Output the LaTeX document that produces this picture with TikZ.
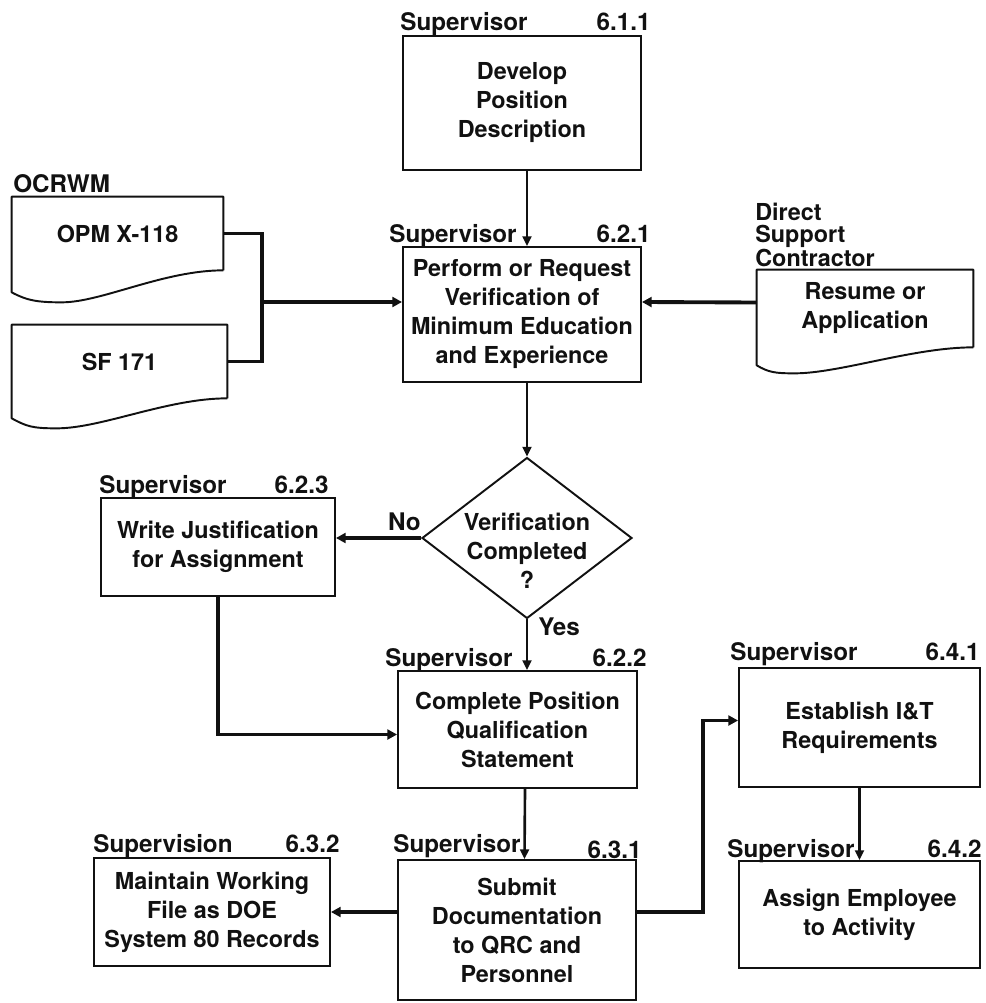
\documentclass[tikz,border=0pt]{standalone}
\usepackage{fontspec}
\setmainfont{TeX Gyre Heros}
\usetikzlibrary{arrows.meta,shapes.geometric,calc}
\definecolor{ink}{HTML}{111111}
\newcommand\chartfont{\fontsize{13.3}{16.5}\selectfont\bfseries}
\newcommand\rolefont{\fontsize{13.8}{16.5}\selectfont\bfseries}
\tikzset{
  proc/.style={draw=ink, line width=1.1pt, align=center, inner sep=2pt, font=\chartfont, text=ink},
  decision/.style={diamond, draw=ink, line width=1.1pt, minimum width=4.2cm, minimum height=3.22cm, inner sep=0pt},
  doc/.style={align=center, inner sep=0pt, font=\chartfont, text=ink},
  docline/.style={draw=ink, line width=1.1pt, line join=round},
  flowtxt/.style={align=center, inner sep=0pt, font=\chartfont, text=ink},
  role/.style={anchor=base west, inner sep=0pt, font=\rolefont, text=ink},
  num/.style={anchor=base east, inner sep=0pt, font=\rolefont, text=ink},
  flow/.style={draw=ink, line width=1.5pt, -{Triangle[length=5.5pt,width=5pt]}},
  flowthick/.style={draw=ink, line width=2.2pt, -{Triangle[length=5.5pt,width=5.6pt]}},
  link/.style={draw=ink, line width=2.2pt},
}

\begin{document}
\begin{tikzpicture}[x=0.02cm,y=-0.02cm]
  \useasboundingbox (0,0) rectangle (985,1003);
  % process boxes
  \node[proc, minimum width=4.76cm, minimum height=2.68cm] (p611) at (522,103) {Develop\\Position\\Description};
  \node[proc, minimum width=4.76cm, minimum height=2.70cm] (p621) at (522,314.5) {Perform or Request\\Verification of\\Minimum Education\\and Experience};
  \node[proc, minimum width=4.68cm, minimum height=1.96cm] (p623) at (218,547) {Write Justification\\for Assignment};
  \node[proc, minimum width=4.78cm, minimum height=2.34cm] (p622) at (517.5,729.5) {Complete Position\\Qualification\\Statement};
  \node[proc, minimum width=4.76cm, minimum height=2.80cm] (p631) at (517,930) {Submit\\Documentation\\to QRC and\\Personnel};
  \node[proc, minimum width=4.72cm, minimum height=2.16cm] (p632) at (212,912) {Maintain Working\\File as DOE\\System 80 Records};
  \node[proc, minimum width=4.82cm, minimum height=2.38cm] (p641) at (859.5,727.5) {Establish I\&T\\Requirements};
  \node[proc, minimum width=4.82cm, minimum height=2.14cm] (p642) at (859.5,914.5) {Assign Employee\\to Activity};
  \node[decision] (dec) at (527,538) {};
  \node[flowtxt] (dectxt) at (527,551) {Verification\\Completed\\?};

  % who and step number over each box
  \node[role] (r611) at (400,31) {Supervisor};
  \node[num] (n611) at (651,31) {6.1.1};
  \node[role] (r621) at (389,243) {Supervisor};
  \node[num] (n621) at (651,243) {6.2.1};
  \node[role] (r623) at (99,493) {Supervisor};
  \node[num] (n623) at (329,493) {6.2.3};
  \node[role] (r622) at (385,666) {Supervisor};
  \node[num] (n622) at (647,666) {6.2.2};
  \node[role] (r631) at (393,852) {Supervisor};
  \node[num] (n631) at (642,858) {6.3.1};
  \node[role] (r632) at (93,852) {Supervision};
  \node[num] (n632) at (340,852) {6.3.2};
  \node[role] (r641) at (730,660) {Supervisor};
  \node[num] (n641) at (980,660) {6.4.1};
  \node[role] (r642) at (727,857) {Supervisor};
  \node[num] (n642) at (982,857) {6.4.2};

  % input documents
  \node[role] (ocrwm) at (13,193) {OCRWM};
  \node[doc, minimum width=4.22cm, minimum height=1.46cm] (opm) at (117.5,233.5) {OPM X-118};
  \node[doc, minimum width=4.30cm, minimum height=1.46cm] (sf) at (119.5,361.5) {SF 171};
  \node[flowtxt, align=left, anchor=north west, font=\fontsize{13.3}{12.3}\selectfont\bfseries] (dsc) at (755,203) {Direct\\Support\\Contractor};
  \node[doc, minimum width=4.32cm, minimum height=1.54cm] (resume) at (865,308.5) {Resume or\\Application};
  \draw[docline] (opm.south east) -- (opm.north east) -- (opm.north west) -- ($(opm.south west)+(0,22)$)
    .. controls +(15,8) and +(-25,0) .. ($(opm.south west)+(50,32)$)
    .. controls +(40,0) and +(-60,0) .. (opm.south east);
  \draw[docline] (sf.south east) -- (sf.north east) -- (sf.north west) -- ($(sf.south west)+(0,20)$)
    .. controls +(15,8) and +(-25,0) .. ($(sf.south west)+(45,30)$)
    .. controls +(45,0) and +(-60,0) .. (sf.south east);
  \draw[docline] (resume.south east) -- (resume.north east) -- (resume.north west) -- ($(resume.south west)+(0,18)$)
    .. controls +(12,7) and +(-20,0) .. ($(resume.south west)+(38,26)$)
    .. controls +(45,0) and +(-60,0) .. (resume.south east);

  % connectors
  \coordinate (brk) at (262,302);
  \draw[link] (opm.east) -| (brk) |- (sf.east);
  \draw[flowthick] (brk) -- (p621.west |- brk);
  \draw[flowthick] ($(resume.west)+(0,-6)$) -- (p621.east |- brk);
  \draw[flow] (dec.north |- p611.south) -- (dec.north |- p621.north);
  \draw[flow] (dec.north |- p621.south) -- (dec.north);
  \draw[flowthick] (dec.west) -- (p623.east |- dec.west);
  \node[num] (no) at (421,530) {No};
  \draw[flow] (dec.south) -- (dec.south |- p622.north);
  \node[role] (yes) at (538,635) {Yes};
  \draw[flowthick] (p623.south) |- ($(p622.west)+(0,5)$);
  \draw[flow] ([xshift=0.15cm]p622.south) -- ([xshift=0.15cm]p631.north);
  \draw[flowthick] (p632.east -| p631.west) -- (p632.east);
  \draw[flowthick] (p632.east -| p631.east) -- ++(66,0) |- ($(p641.west)+(0,-7)$);
  \draw[flow] (p641.south) -- (p642.north);
\end{tikzpicture}
\end{document}
